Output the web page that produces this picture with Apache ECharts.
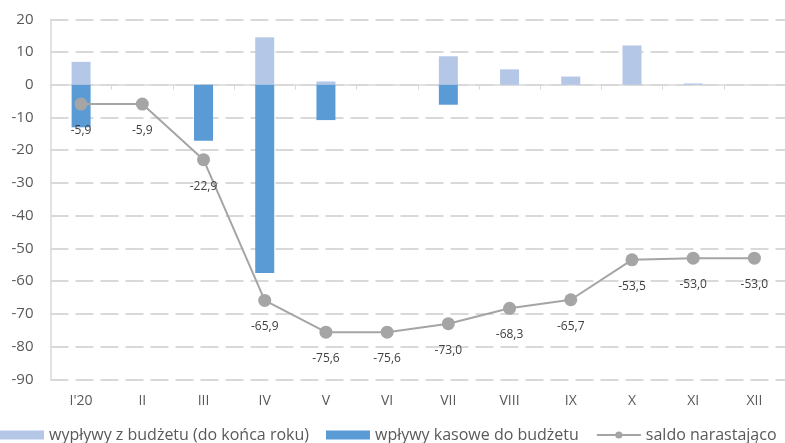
<!DOCTYPE html>
<html>
<head>
<meta charset="utf-8">
<script src="https://cdn.jsdelivr.net/npm/echarts@6/dist/echarts.min.js"></script>
<style>
  html, body { margin: 0; padding: 0; background: #fff; }
  #chart { width: 785px; height: 443px; }
</style>
</head>
<body>
<div id="chart"></div>
<script>
// Months of the budget year
const months = ["I'20", 'II', 'III', 'IV', 'V', 'VI', 'VII', 'VIII', 'IX', 'X', 'XI', 'XII'];

// Outflows from the budget (until year end), bn
const outflows = [7.0, 0, 0, 14.5, 1.0, 0, 8.7, 4.7, 2.5, 12.0, 0.4, 0];

// Cash inflows to the budget, bn
const inflows = [-13.0, 0, -17.1, -57.5, -10.8, 0, -6.1, 0, 0, 0, 0, 0];

// Cumulative balance, bn
const balance = [-5.9, -5.9, -22.9, -65.9, -75.6, -75.6, -73.0, -68.3, -65.7, -53.5, -53.0, -53.0];

const seriesNames = ['wypływy z budżetu (do końca roku)', 'wpływy kasowe do budżetu', 'saldo narastająco'];

const FONT = "'Open Sans', 'Noto Sans', sans-serif";
const fmt = v => v.toFixed(1).replace('.', ',');

const chart = echarts.init(document.getElementById('chart'), null, { renderer: 'canvas' });

chart.setOption({
  backgroundColor: '#ffffff',
  animation: false,
  textStyle: { fontFamily: FONT },
  grid: { left: 50.5, top: 19.3, width: 744, bottom: 63.7, containLabel: false },
  legend: {
    left: 0,
    top: 426,
    padding: 0,
    itemWidth: 44,
    itemHeight: 9,
    itemGap: 17,
    textStyle: { color: '#595959', fontSize: 16, fontFamily: FONT, lineHeight: 18 },
    data: [
      { name: seriesNames[0], icon: 'rect' },
      { name: seriesNames[1], icon: 'rect' },
      { name: seriesNames[2] }
    ]
  },
  xAxis: [
    {
      type: 'category',
      data: months,
      position: 'bottom',
      axisLine: { show: false, onZero: false },
      axisTick: { show: false },
      axisLabel: { color: '#595959', fontSize: 14, margin: 15, fontFamily: FONT },
      splitLine: { show: false }
    },
    {
      type: 'category',
      data: months,
      position: 'bottom',
      axisLine: { show: true, onZero: true, lineStyle: { color: '#d9d9d9', width: 1.5 } },
      axisTick: { show: true, length: 5, lineStyle: { color: '#d9d9d9', width: 1 } },
      axisLabel: { show: false },
      splitLine: { show: false }
    }
  ],
  yAxis: {
    type: 'value',
    min: -90,
    max: 20,
    interval: 10,
    axisLine: { show: true, lineStyle: { color: '#d9d9d9', width: 1.5 } },
    axisTick: { show: false },
    axisLabel: { color: '#595959', fontSize: 15, margin: 17, fontFamily: FONT },
    splitLine: { show: true, lineStyle: { color: '#d9d9d9', width: 2, type: [18, 7] } }
  },
  series: [
    {
      name: seriesNames[0],
      type: 'bar',
      stack: 'flows',
      barWidth: 19,
      itemStyle: { color: '#b4c7e7' },
      data: outflows
    },
    {
      name: seriesNames[1],
      type: 'bar',
      stack: 'flows',
      barWidth: 19,
      itemStyle: { color: '#5b9bd5' },
      data: inflows
    },
    {
      name: seriesNames[2],
      type: 'line',
      data: balance,
      symbol: 'circle',
      symbolSize: 13,
      z: 5,
      lineStyle: { color: '#a5a5a5', width: 2 },
      itemStyle: { color: '#a5a5a5' },
      label: {
        show: true,
        position: 'bottom',
        distance: 14,
        color: '#404040',
        fontSize: 12,
        fontFamily: FONT,
        formatter: p => fmt(p.value)
      }
    }
  ]
});
</script>
</body>
</html>
